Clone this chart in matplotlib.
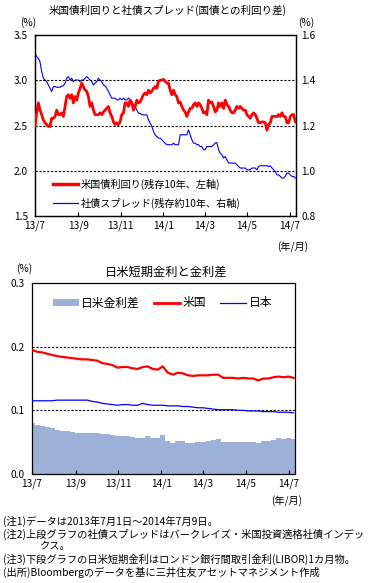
import matplotlib
matplotlib.use("Agg")
import matplotlib.pyplot as plt
import matplotlib.dates as mdates
from matplotlib.patches import Patch
from matplotlib.lines import Line2D
import pandas as pd
import numpy as np

plt.rcParams['font.family'] = ['Noto Sans CJK JP', 'DejaVu Sans']

# ---------------- data ----------------
tick_dates = ['2013-07-01', '2013-09-01', '2013-11-01', '2014-01-01',
              '2014-03-01', '2014-05-01', '2014-07-01']
tick_labels = ['13/7', '13/9', '13/11', '14/1', '14/3', '14/5', '14/7']

# US Treasury 10y yield (%; left axis)
us10y = [2.49, 2.64, 2.75, 2.67, 2.62, 2.56, 2.53, 2.51, 2.49, 2.49,
         2.58, 2.58, 2.60, 2.67, 2.62, 2.62, 2.64, 2.60, 2.71, 2.82,
         2.84, 2.80, 2.84, 2.75, 2.82, 2.78, 2.86, 2.91, 2.97, 2.93,
         2.89, 2.88, 2.82, 2.71, 2.75, 2.67, 2.62, 2.62, 2.62, 2.64,
         2.62, 2.65, 2.67, 2.69, 2.71, 2.64, 2.60, 2.54, 2.51, 2.53,
         2.51, 2.54, 2.62, 2.64, 2.75, 2.75, 2.71, 2.78, 2.75, 2.67,
         2.71, 2.78, 2.75, 2.76, 2.80, 2.84, 2.86, 2.84, 2.89, 2.86,
         2.88, 2.91, 2.93, 2.91, 2.99, 3.00, 3.00, 3.01, 2.99, 2.97,
         2.97, 2.89, 2.84, 2.89, 2.84, 2.82, 2.75, 2.76, 2.71, 2.67,
         2.65, 2.60, 2.65, 2.69, 2.69, 2.73, 2.75, 2.71, 2.75, 2.73,
         2.69, 2.64, 2.65, 2.62, 2.78, 2.75, 2.76, 2.71, 2.65, 2.67,
         2.75, 2.71, 2.75, 2.69, 2.78, 2.73, 2.71, 2.67, 2.64, 2.64,
         2.67, 2.71, 2.69, 2.71, 2.69, 2.67, 2.67, 2.62, 2.60, 2.58,
         2.62, 2.64, 2.62, 2.58, 2.53, 2.53, 2.54, 2.54, 2.53, 2.45,
         2.51, 2.53, 2.60, 2.60, 2.60, 2.60, 2.62, 2.60, 2.64, 2.60,
         2.60, 2.53, 2.53, 2.60, 2.62, 2.62, 2.54]

# Corporate bond spread (%; right axis)
spread = [1.519, 1.504, 1.497, 1.482, 1.438, 1.409, 1.401, 1.394, 1.379, 1.365,
          1.350, 1.372, 1.372, 1.369, 1.369, 1.369, 1.375, 1.375, 1.387, 1.409,
          1.416, 1.401, 1.409, 1.394, 1.401, 1.401, 1.401, 1.394, 1.401, 1.401,
          1.409, 1.416, 1.409, 1.401, 1.394, 1.379, 1.387, 1.394, 1.409, 1.401,
          1.394, 1.379, 1.375, 1.365, 1.350, 1.335, 1.321, 1.321, 1.321, 1.313,
          1.313, 1.321, 1.313, 1.321, 1.313, 1.313, 1.321, 1.313, 1.306, 1.291,
          1.284, 1.269, 1.254, 1.254, 1.247, 1.247, 1.247, 1.247, 1.225, 1.210,
          1.196, 1.174, 1.159, 1.151, 1.144, 1.144, 1.137, 1.129, 1.122, 1.115,
          1.115, 1.115, 1.115, 1.122, 1.115, 1.115, 1.115, 1.159, 1.159, 1.159,
          1.159, 1.159, 1.181, 1.159, 1.137, 1.122, 1.122, 1.115, 1.115, 1.107,
          1.107, 1.093, 1.093, 1.107, 1.107, 1.107, 1.107, 1.115, 1.122, 1.125,
          1.093, 1.078, 1.071, 1.056, 1.063, 1.049, 1.034, 1.034, 1.034, 1.034,
          1.034, 1.026, 1.019, 1.012, 1.012, 1.012, 1.012, 1.004, 1.004, 1.004,
          1.012, 1.012, 1.012, 1.004, 1.019, 1.022, 1.022, 1.022, 1.022, 1.022,
          1.019, 1.022, 1.012, 1.004, 0.997, 0.982, 0.982, 0.975, 0.968, 0.968,
          0.975, 0.990, 0.990, 0.982, 0.975, 0.975, 0.968]

# Short-term rates (1M LIBOR, %)
us_short = [0.195, 0.192, 0.191, 0.189, 0.187, 0.185, 0.184, 0.183, 0.182, 0.181,
            0.180, 0.180, 0.179, 0.178, 0.174, 0.173, 0.171, 0.167, 0.168, 0.168,
            0.166, 0.165, 0.168, 0.169, 0.165, 0.164, 0.169, 0.159, 0.156, 0.159,
            0.158, 0.155, 0.154, 0.155, 0.155, 0.155, 0.156, 0.156, 0.151, 0.151,
            0.151, 0.150, 0.151, 0.150, 0.150, 0.147, 0.150, 0.150, 0.152, 0.153,
            0.152, 0.153, 0.151]
jp_short = [0.115, 0.115, 0.115, 0.115, 0.115, 0.116, 0.116, 0.116, 0.116, 0.116,
            0.116, 0.116, 0.114, 0.113, 0.111, 0.110, 0.109, 0.108, 0.109, 0.109,
            0.108, 0.108, 0.111, 0.109, 0.108, 0.108, 0.108, 0.107, 0.107, 0.107,
            0.106, 0.106, 0.105, 0.104, 0.104, 0.103, 0.102, 0.101, 0.101, 0.101,
            0.101, 0.100, 0.100, 0.099, 0.099, 0.099, 0.098, 0.098, 0.098, 0.097,
            0.097, 0.097, 0.096]

top_dates = pd.date_range('2013-07-01', '2014-07-09', periods=len(us10y))
bot_dates = pd.date_range('2013-07-01', '2014-07-08', periods=len(us_short))
diff_short = np.array(us_short) - np.array(jp_short)

xmin = pd.Timestamp('2013-07-01')
xmax = pd.Timestamp('2014-07-10')
ticks = pd.to_datetime(tick_dates)

W, H = 371, 583
fig = plt.figure(figsize=(W / 100, H / 100), dpi=100)

RED = '#FF0000'
BLUE = '#0000FF'
FS = 7.3


def frac(x0, y0, x1, y1):
    return [x0 / W, 1 - y1 / H, (x1 - x0) / W, (y1 - y0) / H]


def style_x(ax):
    ax.set_xlim(xmin, xmax)
    ax.set_xticks(ticks)
    ax.set_xticklabels(tick_labels, fontsize=FS)
    ax.tick_params(axis='x', direction='in', length=3, width=0.8, pad=3)
    for s in ax.spines.values():
        s.set_linewidth(0.9)
        s.set_color('black')


# ---------------- top chart ----------------
ax1 = fig.add_axes(frac(35, 35, 296, 216))
ax1.set_ylim(1.5, 3.5)
ax1.set_yticks([1.5, 2.0, 2.5, 3.0, 3.5])
ax1.set_yticklabels(['%.1f' % v for v in [1.5, 2.0, 2.5, 3.0, 3.5]], fontsize=FS)
ax1.tick_params(axis='y', length=0, pad=5)
for v in [2.0, 2.5, 3.0]:
    ax1.axhline(v, color='black', lw=0.8, ls=(0, (2, 1.5)), zorder=1)
style_x(ax1)
ax2 = ax1.twinx()
ax2.set_ylim(0.8, 1.6)
ax2.set_yticks([0.8, 1.0, 1.2, 1.4, 1.6])
ax2.set_yticklabels(['%.1f' % v for v in [0.8, 1.0, 1.2, 1.4, 1.6]], fontsize=FS)
ax2.tick_params(axis='y', length=0, pad=4)
for s in ax2.spines.values():
    s.set_linewidth(0.9)

ax2.plot(top_dates, spread, color=BLUE, lw=0.8, zorder=3)
ax1.set_zorder(ax2.get_zorder() + 1)
ax1.patch.set_visible(False)
ax1.plot(top_dates, us10y, color=RED, lw=2.0, zorder=4)

h1 = [Line2D([], [], color=RED, lw=2.5), Line2D([], [], color=BLUE, lw=0.9)]
ax1.legend(h1, ['米国債利回り(残存10年、左軸)', '社債スプレッド(残存約10年、右軸)'],
           loc='upper left', bbox_to_anchor=(0.07, 0.205), frameon=False,
           fontsize=FS, handlelength=2.4, handletextpad=0.3, labelspacing=0.75,
           borderaxespad=0, borderpad=0)

fig.text(168 / W, 1 - 10 / H, '米国債利回りと社債スプレッド(国債との利回り差)',
         ha='center', va='center', fontsize=7.6)
fig.text(28 / W, 1 - 23 / H, '(%)', ha='center', va='center', fontsize=FS)
fig.text(306 / W, 1 - 23 / H, '(%)', ha='center', va='center', fontsize=FS)
fig.text(293 / W, 1 - 247 / H, '(年/月)', ha='center', va='center', fontsize=FS)

# ---------------- bottom chart ----------------
ax3 = fig.add_axes(frac(32, 283, 295, 474))
ax3.set_ylim(0.0, 0.3)
ax3.set_yticks([0.0, 0.1, 0.2, 0.3])
ax3.set_yticklabels(['%.1f' % v for v in [0.0, 0.1, 0.2, 0.3]], fontsize=FS)
ax3.tick_params(axis='y', length=0, pad=5)
style_x(ax3)
step = (bot_dates[1] - bot_dates[0])
ax3.bar(bot_dates, diff_short, width=step.days + step.seconds / 86400,
        color='#9DB0D8', edgecolor='none', align='center', zorder=1)
for v in [0.1, 0.2]:
    ax3.axhline(v, color='black', lw=0.8, ls=(0, (2, 1.5)), zorder=2)
ax3.plot(bot_dates, us_short, color=RED, lw=1.6, zorder=3)
ax3.plot(bot_dates, jp_short, color=BLUE, lw=0.9, zorder=3)

h3 = [Patch(facecolor='#9DB0D8', edgecolor='none'),
      Line2D([], [], color=RED, lw=2.0), Line2D([], [], color=BLUE, lw=0.9)]
ax3.legend(h3, ['日米金利差', '米国', '日本'], loc='upper left',
           bbox_to_anchor=(0.08, 0.93), ncol=3, frameon=False, fontsize=8.5,
           handlelength=2.2, handleheight=0.5, handletextpad=0.2,
           columnspacing=1.2, borderaxespad=0, borderpad=0)

fig.text(166 / W, 1 - 272 / H, '日米短期金利と金利差', ha='center', va='center',
         fontsize=8.8)
fig.text(24 / W, 1 - 269 / H, '(%)', ha='center', va='center', fontsize=FS)
fig.text(287 / W, 1 - 501 / H, '(年/月)', ha='center', va='center', fontsize=FS)

# ---------------- notes ----------------
notes = [(3, 521, '(注1)データは2013年7月1日～2014年7月9日。'),
         (3, 534, '(注2)上段グラフの社債スプレッドはバークレイズ・米国投資適格社債インデッ'),
         (40, 546, 'クス。'),
         (3, 559, '(注3)下段グラフの日米短期金利はロンドン銀行間取引金利(LIBOR)1カ月物。'),
         (3, 572, '(出所)Bloombergのデータを基に三井住友アセットマネジメント作成')]
for x, y, t in notes:
    fig.text(x / W, 1 - y / H, t, ha='left', va='center', fontsize=7.4)

fig.savefig('out.png', dpi=100)
